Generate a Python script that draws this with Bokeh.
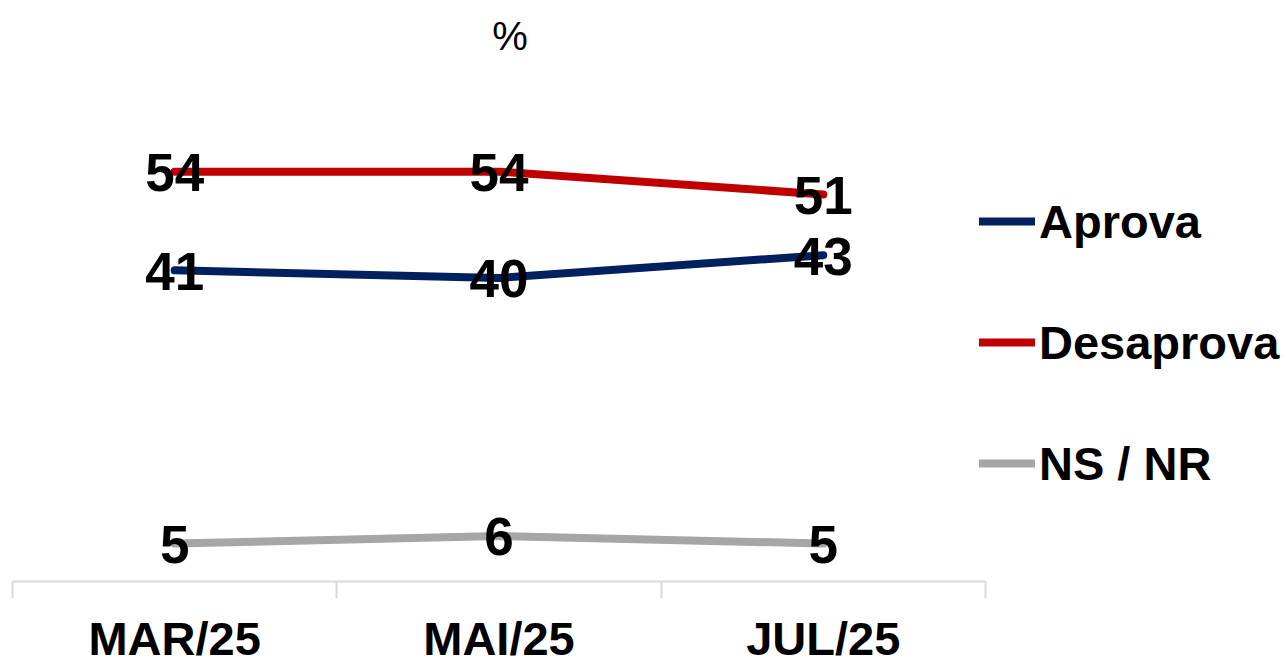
from bokeh.plotting import figure
from bokeh.models import FixedTicker, Legend, LegendItem, Label, ColumnDataSource, LinearAxis
from bokeh.core.properties import value
from bokeh.embed import file_html
from bokeh.resources import INLINE

categories = ["MAR/25", "MAI/25", "JUL/25"]
aprova = [41, 40, 43]
desaprova = [54, 54, 51]
nsnr = [5, 6, 5]
series_names = ["Aprova", "Desaprova", "NS / NR"]
colors = ["#002060", "#C00000", "#A6A6A6"]

xs = [i + 0.5 for i in range(len(categories))]
FONT = "Liberation Sans"

p = figure(width=1284, height=664, x_range=(-0.037, 3.922), y_range=(-10.935, 76.55),
           output_backend="svg", toolbar_location=None,
           x_axis_location=None, y_axis_location=None,
           min_border_left=0, min_border_right=0, min_border_top=0, min_border_bottom=0)
p.outline_line_color = None
p.grid.visible = False

ax = LinearAxis(fixed_location=0, bounds=(0, 3))
ax.ticker = FixedTicker(ticks=xs, minor_ticks=[0, 1, 2, 3])
ax.major_label_overrides = {x: c for x, c in zip(xs, categories)}
ax.axis_line_color = "#D9D9D9"
ax.axis_line_width = 2
ax.major_tick_line_color = None
ax.major_tick_out = 0
ax.major_tick_in = 0
ax.minor_tick_line_color = "#D9D9D9"
ax.minor_tick_line_width = 2
ax.minor_tick_out = 17
ax.minor_tick_in = 0
ax.major_label_text_font = FONT
ax.major_label_text_font_style = "bold"
ax.major_label_text_font_size = "47px"
ax.major_label_text_color = "black"
ax.major_label_standoff = 13
p.add_layout(ax, "below")

items = []
for name, vals, col in zip(series_names, [aprova, desaprova, nsnr], colors):
    src = ColumnDataSource(dict(x=xs, y=vals, t=[str(v) for v in vals]))
    r = p.line("x", "y", source=src, line_color=col, line_width=8, line_cap="round", line_join="round")
    items.append(LegendItem(label=name, renderers=[r]))
    p.text("x", "y", text="t", source=src, text_align="center", text_baseline="middle",
           text_font=value(FONT), text_font_style="bold", text_font_size="53px",
           text_color="black", y_offset=1)

legend = Legend(items=items, location=(979, 171), orientation="vertical",
                label_text_font=FONT, label_text_font_style="bold", label_text_font_size="47px",
                label_text_color="black", glyph_width=56, glyph_height=60, label_height=60,
                label_standoff=4, spacing=61, padding=0, margin=0,
                border_line_color=None, background_fill_alpha=0)
p.add_layout(legend)

p.add_layout(Label(x=1.5, y=71.9, text="%", x_offset=11, text_align="center", text_baseline="middle",
                   text_font=FONT, text_font_size="40px", text_color="black"))

open("out.html", "w").write(file_html(p, INLINE))
